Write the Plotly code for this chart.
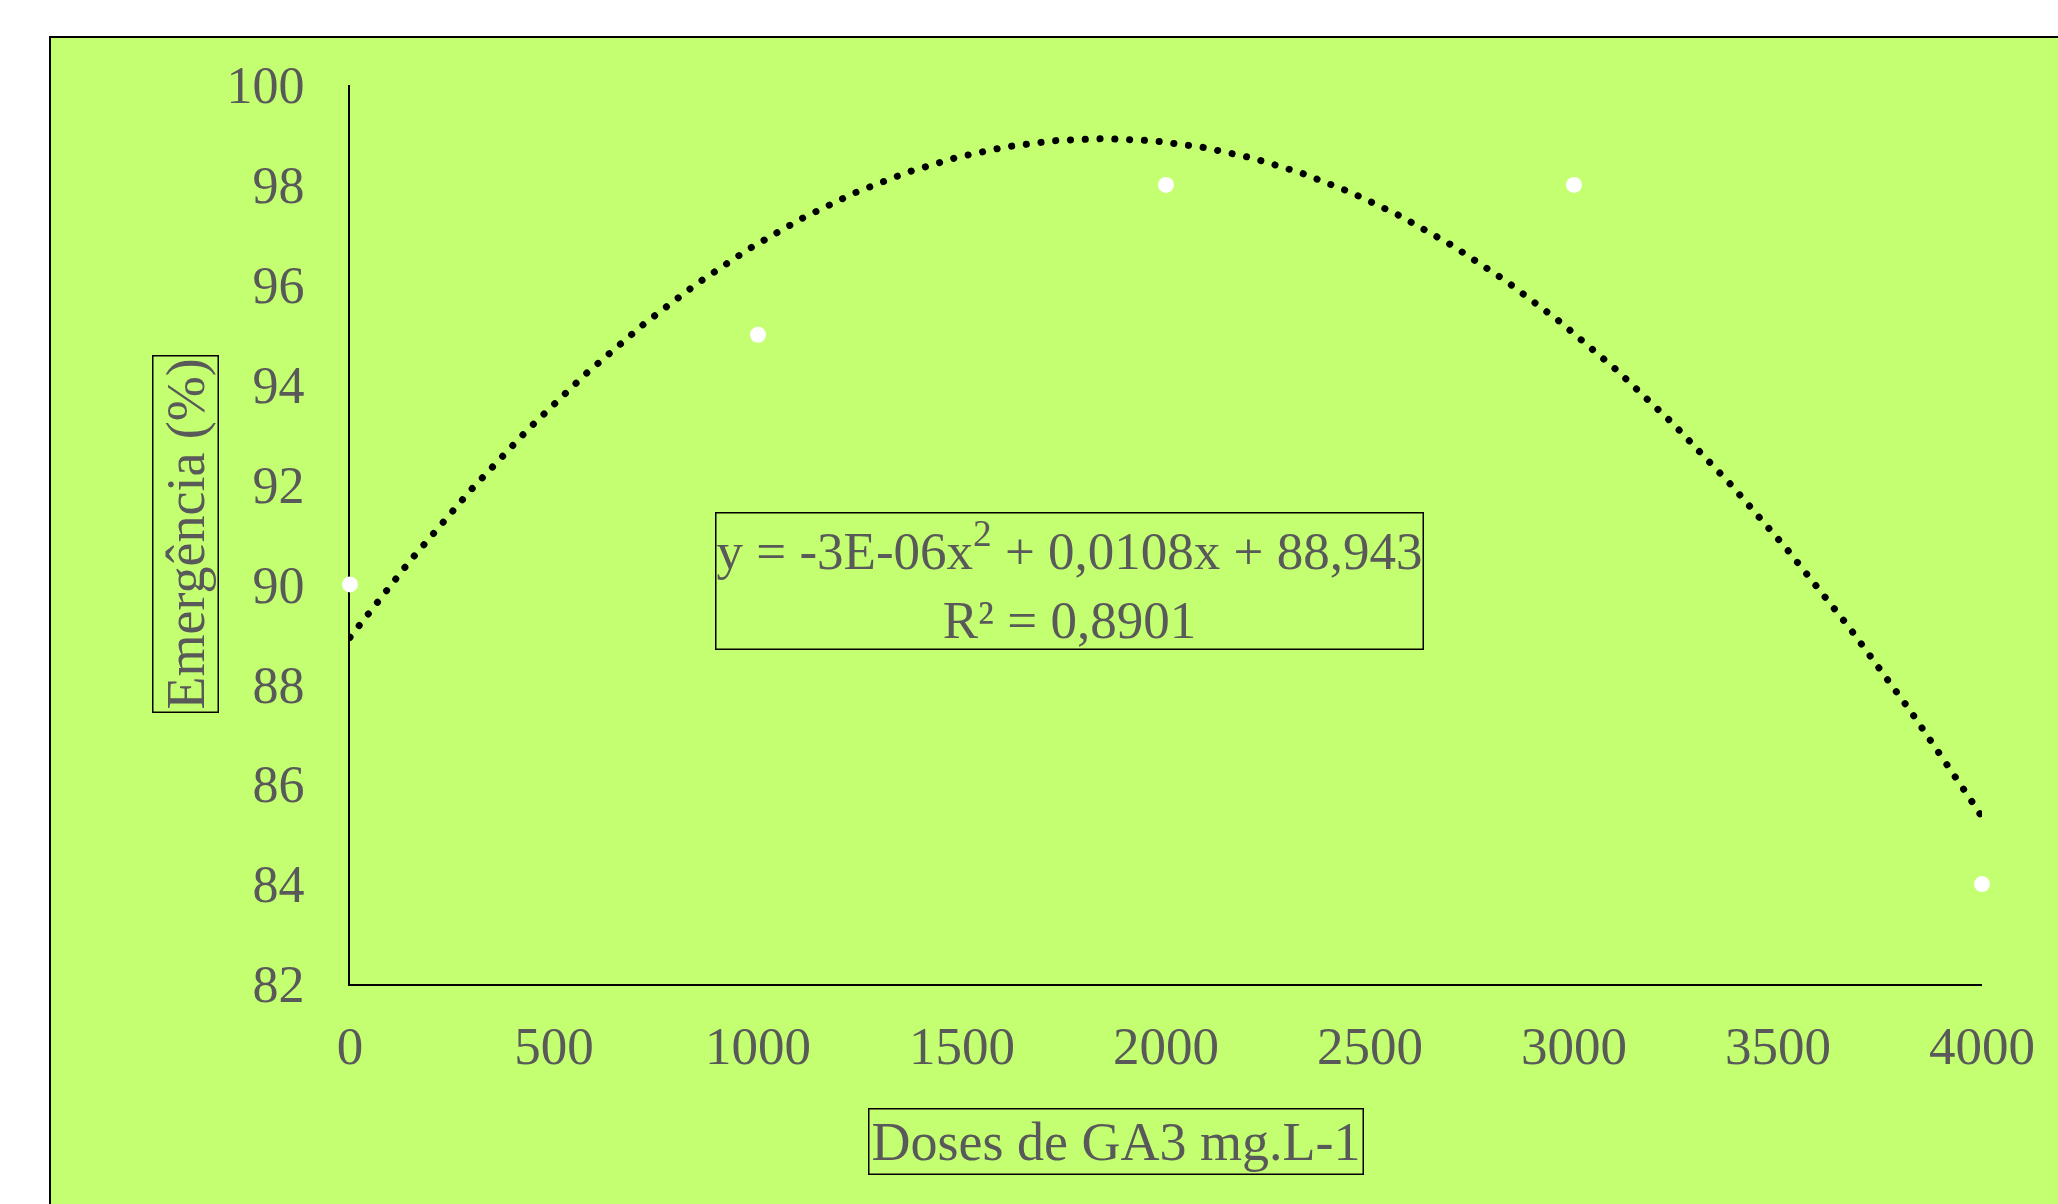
import numpy as np
import plotly.graph_objects as go

# Data
doses = [0, 1000, 2000, 3000, 4000]
emergencia = [90, 95, 98, 98, 84]
x_ticks = [0, 500, 1000, 1500, 2000, 2500, 3000, 3500, 4000]
y_ticks = [82, 84, 86, 88, 90, 92, 94, 96, 98, 100]
eq_text = "y = -3E-06x<sup>2</sup> + 0,0108x + 88,943<br>R² = 0,8901"
x_title = "Doses de GA3 mg.L-1"
y_title = "Emergência (%)"

# Polynomial trendline (order 2) fitted to the data, as in the original chart
coef = np.polyfit(doses, emergencia, 2)
xt = np.linspace(min(doses), max(doses), 400)
yt = np.polyval(coef, xt)

W, H = 2058, 1204
L, R, T, B = 350, 76, 85, 220
pw, ph = W - L - R, H - T - B

def px(x):
    return (x - L) / pw

def py(y):
    return (H - B - y) / ph

FONT = "Liberation Serif, Times New Roman, serif"
GRAY = "#595959"
GREEN = "#C3FF71"
FS = 54

fig = go.Figure()
fig.add_trace(go.Scatter(x=xt, y=yt, mode="lines",
                         line=dict(color="black", width=7, dash="7px,7.8px"),
                         hoverinfo="skip", showlegend=False, cliponaxis=False))
fig.add_trace(go.Scatter(x=doses, y=emergencia, mode="markers",
                         marker=dict(color="white", size=16, line=dict(width=0)),
                         showlegend=False, cliponaxis=False))

fig.update_layout(
    width=W, height=H,
    margin=dict(l=L, r=R, t=T, b=B),
    paper_bgcolor="white",
    plot_bgcolor="rgba(0,0,0,0)",
    font=dict(family=FONT, color=GRAY, size=FS),
    showlegend=False,
    shapes=[dict(type="rect", xref="paper", yref="paper", layer="below",
                 x0=px(50), x1=px(W + 20), y0=py(H + 20), y1=py(37),
                 fillcolor=GREEN, line=dict(color="black", width=2))],
    annotations=[
        dict(text=eq_text, xref="paper", yref="paper", x=px(1069), y=py(581),
             xanchor="center", yanchor="middle", showarrow=False,
             font=dict(family=FONT, size=53, color=GRAY),
             bordercolor="black", borderwidth=1.5, borderpad=0),
        dict(text=x_title, xref="paper", yref="paper", x=px(1116), y=py(1141),
             xanchor="center", yanchor="middle", showarrow=False,
             font=dict(family=FONT, size=FS, color=GRAY),
             bordercolor="black", borderwidth=1.5, borderpad=2),
        dict(text=y_title, xref="paper", yref="paper", x=px(185), y=py(534),
             xanchor="center", yanchor="middle", showarrow=False, textangle=-90,
             font=dict(family=FONT, size=FS, color=GRAY),
             bordercolor="black", borderwidth=1.5, borderpad=2),
    ],
)
fig.update_xaxes(range=[0, 4000], tickvals=x_ticks, showgrid=False, zeroline=False,
                 showline=True, linecolor="black", linewidth=2, ticks="outside",
                 ticklen=0, ticklabelstandoff=14, layer="below traces",
                 tickfont=dict(family=FONT, size=53, color=GRAY))
fig.update_yaxes(range=[82, 100], tickvals=y_ticks, showgrid=False, zeroline=False,
                 showline=True, linecolor="black", linewidth=2, ticks="outside",
                 ticklen=0, ticklabelstandoff=33, layer="below traces",
                 tickfont=dict(family=FONT, size=52, color=GRAY))

post = """
document.body.style.margin = '0';
var lines = document.querySelectorAll('.scatterlayer .trace path.js-line');
if (lines.length) {
  lines[0].style.strokeLinecap = 'round';
  lines[0].style.strokeDasharray = '0.1px,14.7px';
}
"""
fig.write_html("out.html", post_script=post, config={"displayModeBar": False})
